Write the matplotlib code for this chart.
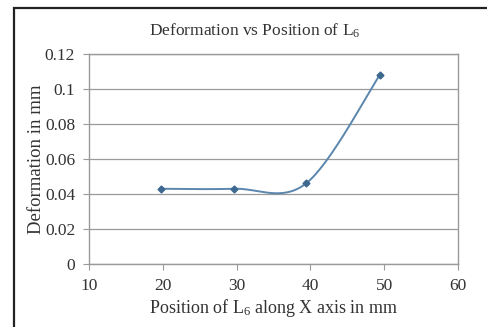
import matplotlib.pyplot as plt
import numpy as np
from matplotlib.patches import Rectangle

plt.rcParams.update({
    'font.family': 'Liberation Serif',
    'font.size': 12.5,
    'mathtext.fontset': 'custom',
    'mathtext.rm': 'Liberation Serif',
    'mathtext.it': 'Liberation Serif:italic',
})

# position along X (mm) and deformation (mm)
position = [19.7, 29.6, 39.4, 49.4]
deformation = [0.043, 0.043, 0.046, 0.108]

x_ticks = [10, 20, 30, 40, 50, 60]
y_ticks = [0, 0.02, 0.04, 0.06, 0.08, 0.1, 0.12]
y_labels = ['0', '0.02', '0.04', '0.06', '0.08', '0.1', '0.12']


def smooth_curve(xs, ys, n=60):
    # cubic Bezier through the points, Catmull-Rom style control points
    pts = np.column_stack([xs, ys])
    out = []
    for i in range(len(pts) - 1):
        p0 = pts[max(i - 1, 0)]
        p1 = pts[i]
        p2 = pts[i + 1]
        p3 = pts[min(i + 2, len(pts) - 1)]
        c1 = p1 + (p2 - p0) / 6
        c2 = p2 - (p3 - p1) / 6
        t = np.linspace(0, 1, n)[:, None]
        seg = ((1 - t) ** 3 * p1 + 3 * (1 - t) ** 2 * t * c1
               + 3 * (1 - t) * t ** 2 * c2 + t ** 3 * p2)
        out.append(seg)
    seg = np.vstack(out)
    return seg[:, 0], seg[:, 1]


fig = plt.figure(figsize=(4.87, 3.27), dpi=100)
ax = fig.add_axes([0.1828, 0.1927, 0.7577, 0.6422])

sx, sy = smooth_curve(position, deformation)
ax.plot(sx, sy, color='#5b86ad', lw=1.4)
ax.plot(position, deformation, 'D', color='#3d6890', ms=3.5, lw=0)

ax.set_xlim(10, 60)
ax.set_ylim(0, 0.12)
ax.set_xticks(x_ticks)
ax.set_yticks(y_ticks)
ax.set_yticklabels(y_labels)
ax.grid(axis='y', color='#9a9a9a', lw=0.9)
ax.set_axisbelow(True)
for s in ax.spines.values():
    s.set_color('#9a9a9a')
    s.set_linewidth(1.0)
ax.tick_params(color='#9a9a9a', length=4, labelcolor='#333333', pad=6)

fig.text(0.5236, 0.905, 'Deformation vs Position of L$_6$', fontsize=12.5,
         color='#333333', ha='center', va='center')
ax.set_xlabel('Position of L$_6$ along X axis in mm', color='#333333',
              fontsize=13, labelpad=2)
ax.set_ylabel('Deformation in mm', color='#333333', fontsize=13.5,
              labelpad=0)

# outer frame around the chart
fig.patches.append(Rectangle((14 / 487, -0.05), 1.0, 1 - 8 / 327 + 0.05,
                             transform=fig.transFigure, fill=False,
                             edgecolor='#222222', lw=1.6))

fig.savefig('out.png', dpi=100)
